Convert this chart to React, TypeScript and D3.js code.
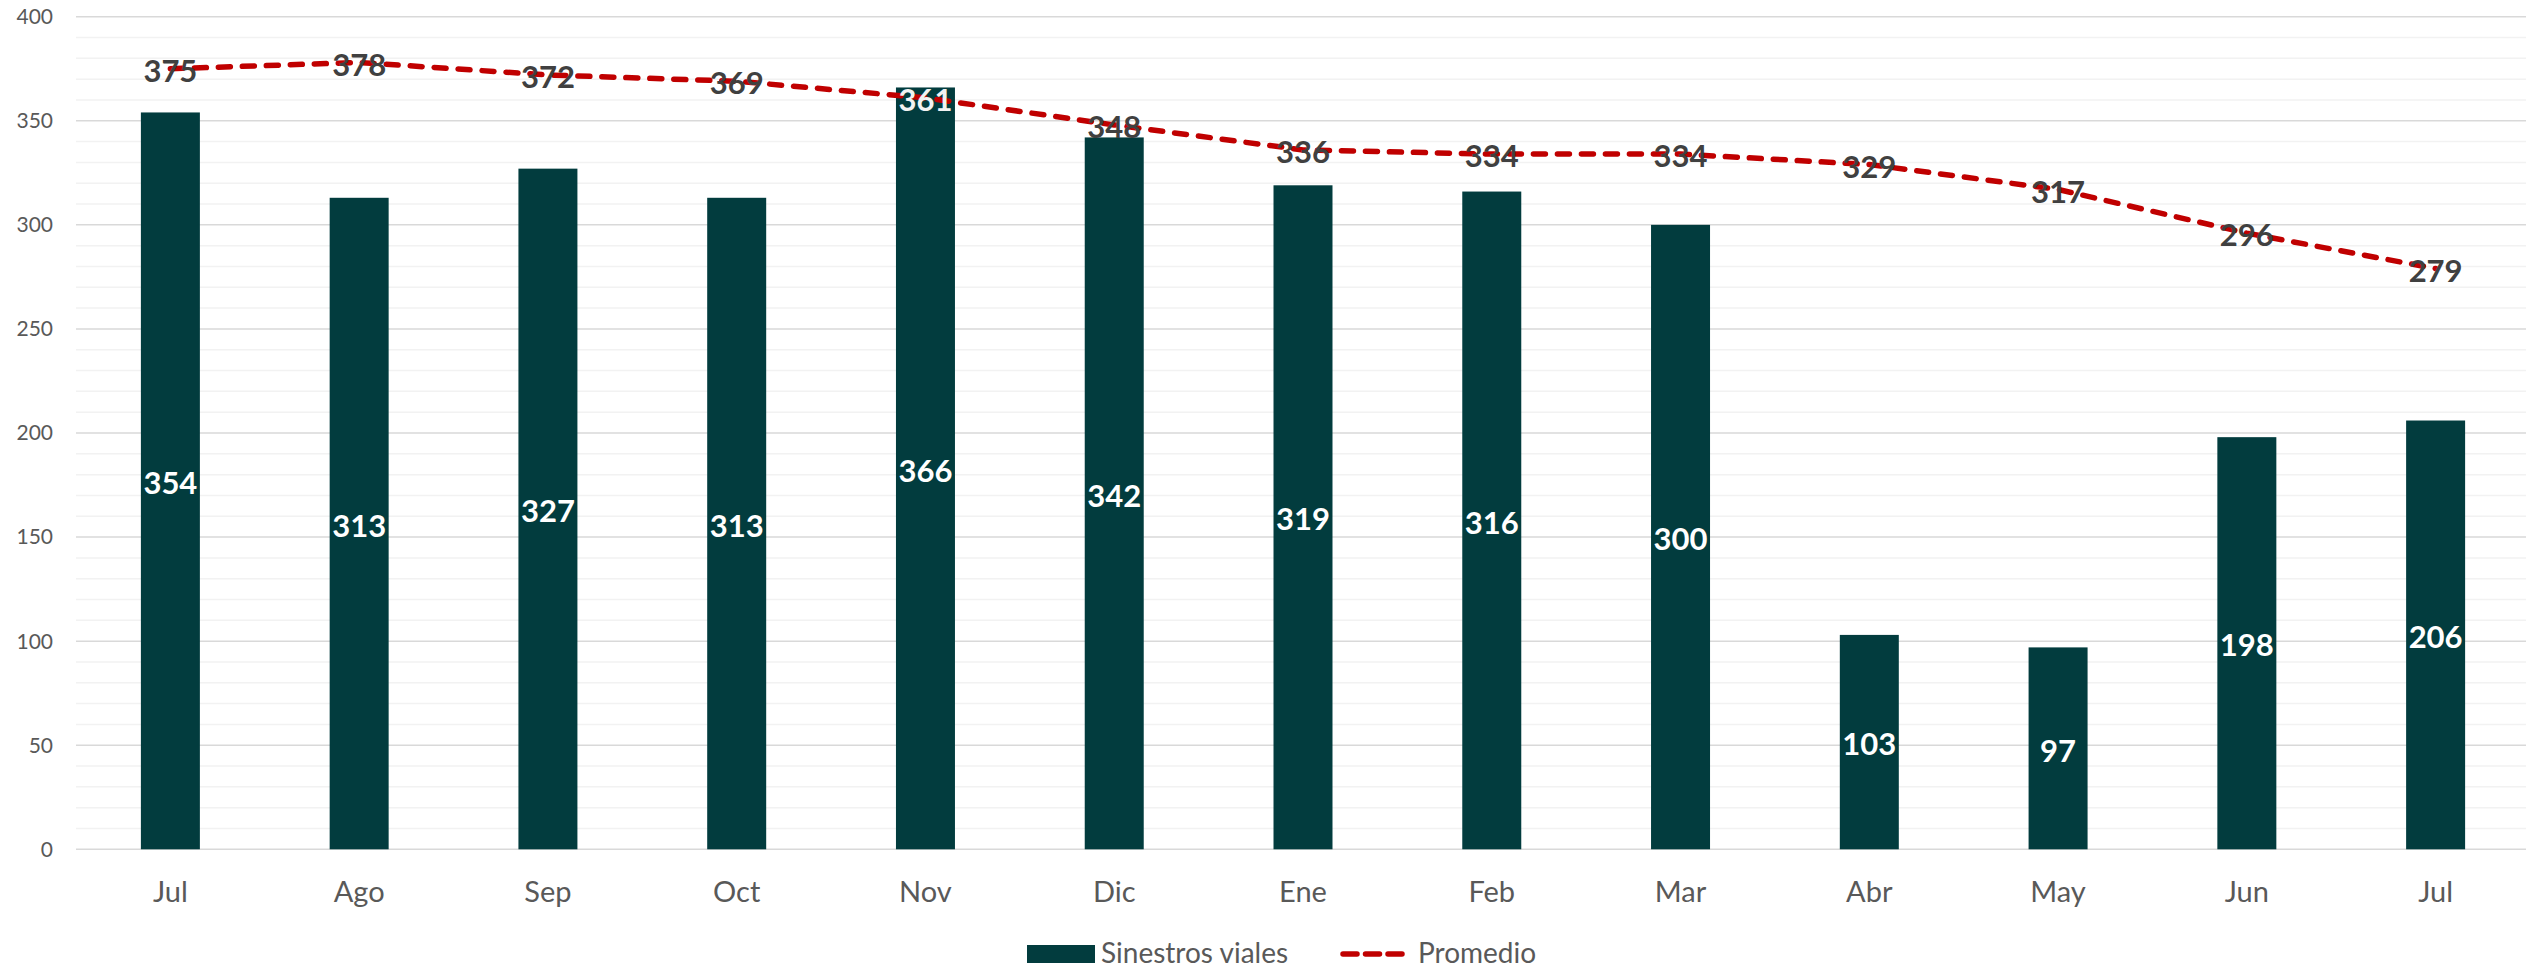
import React from "react";
import * as d3 from "d3";

const categories = ["Jul", "Ago", "Sep", "Oct", "Nov", "Dic", "Ene", "Feb", "Mar", "Abr", "May", "Jun", "Jul "];
const siniestros = [354, 313, 327, 313, 366, 342, 319, 316, 300, 103, 97, 198, 206];
const promedio = [375, 378, 372, 369, 361, 348, 336, 334, 334, 329, 317, 296, 279];
const majorTicks = [0, 50, 100, 150, 200, 250, 300, 350, 400];
const minorTicks = d3.range(0, 401, 10).filter((v) => v % 50 !== 0);

const W = 2526;
const H = 968;
const left = 76;
const right = 2530;
const top = 16.7;
const bottom = 849.3;
const FONT = "Lato, 'Open Sans', sans-serif";

export default function App() {
  const x = d3.scaleBand<string>().domain(categories).range([left, right]).paddingInner(0.6875).paddingOuter(0.34375);
  const y = d3.scaleLinear().domain([0, 400]).range([bottom, top]);
  const cx = (i: number) => (x(categories[i]) as number) + x.bandwidth() / 2;
  const line = d3
    .line<number>()
    .x((_, i) => cx(i))
    .y((d) => y(d));

  return (
    <svg width={W} height={H} style={{ position: "absolute", left: 0, top: 0, background: "#fff" }}>
      {minorTicks.map((t) => (
        <line key={"m" + t} x1={left} x2={right} y1={y(t)} y2={y(t)} stroke="#F2F2F2" strokeWidth={1.5} />
      ))}
      {majorTicks.map((t) => (
        <line key={"M" + t} x1={left} x2={right} y1={y(t)} y2={y(t)} stroke="#D9D9D9" strokeWidth={1.5} />
      ))}
      {majorTicks.map((t) => (
        <text key={"yl" + t} x={53} y={y(t)} dy="0.35em" textAnchor="end" fontFamily={FONT} fontSize={21} fill="#595959">
          {t}
        </text>
      ))}
      {categories.map((c, i) => (
        <text key={"xl" + i} x={cx(i)} y={902} textAnchor="middle" fontFamily={FONT} fontSize={29} fill="#595959">
          {c.trim()}
        </text>
      ))}
      {siniestros.map((v, i) => (
        <rect key={"b" + i} x={x(categories[i])} y={y(v)} width={x.bandwidth()} height={y(0) - y(v)} fill="#023C3E" />
      ))}
      {siniestros.map((v, i) => (
        <text
          key={"bl" + i}
          x={cx(i)}
          y={(y(v) + y(0)) / 2 + 2}
          dy="0.36em"
          textAnchor="middle"
          fontFamily={FONT}
          fontWeight="bold"
          fontSize={31}
          fill="#FFFFFF"
        >
          {v}
        </text>
      ))}
      <path
        d={line(promedio) || ""}
        fill="none"
        stroke="#C00000"
        strokeWidth={5.5}
        strokeDasharray="12 12"
        strokeLinecap="round"
      />
      {promedio.map((v, i) => (
        <text
          key={"pl" + i}
          x={cx(i)}
          y={y(v) + 2}
          dy="0.36em"
          textAnchor="middle"
          fontFamily={FONT}
          fontWeight="bold"
          fontSize={31}
          fill={v < siniestros[i] ? "#F2F2F2" : "#404040"}
        >
          {v}
        </text>
      ))}
      <g>
        <rect x={1027} y={945} width={68} height={18} fill="#023C3E" />
        <text x={1101} y={963} fontFamily={FONT} fontSize={28} fill="#595959">
          Sinestros viales
        </text>
        <line x1={1343} x2={1402} y1={954} y2={954} stroke="#C00000" strokeWidth={5.5} strokeDasharray="14 8.5" strokeLinecap="round" />
        <text x={1418} y={963} fontFamily={FONT} fontSize={28} fill="#595959">
          Promedio
        </text>
      </g>
    </svg>
  );
}
